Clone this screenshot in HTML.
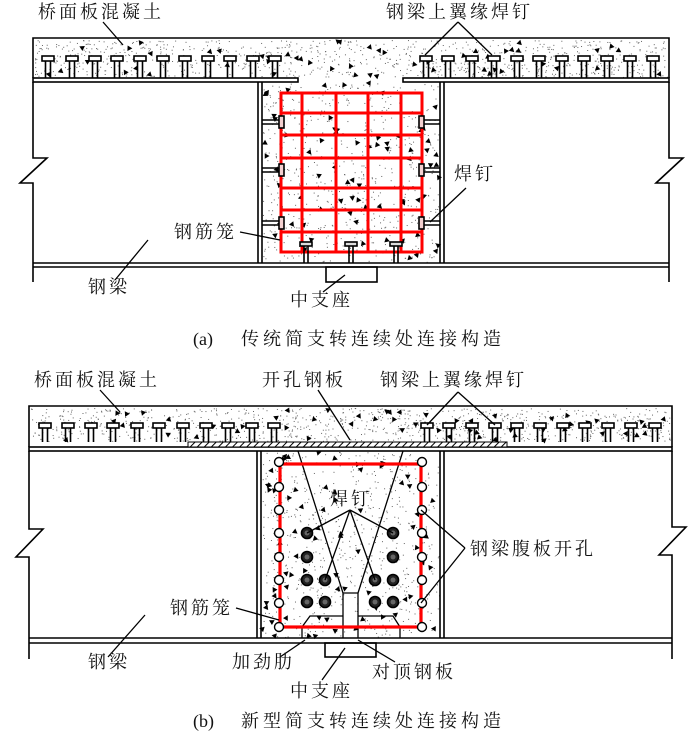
<!DOCTYPE html>
<html><head><meta charset="utf-8"><style>
html,body{margin:0;padding:0;background:#fff;width:700px;height:734px;overflow:hidden}
svg{display:block}
text{font-family:"Liberation Serif","Noto Serif CJK SC",serif;font-size:18px;fill:#111}
</style></head><body>
<svg id="s" width="700" height="734" viewBox="0 0 700 734" xmlns="http://www.w3.org/2000/svg">
<defs>
<pattern id="hat" width="5" height="5" patternUnits="userSpaceOnUse" patternTransform="rotate(45)">
<rect width="5" height="5" fill="#fff"/><line x1="0" y1="0" x2="0" y2="5" stroke="#000" stroke-width="2"/></pattern>
</defs>
<g id="speck"></g>
<g fill="none" stroke="#000" stroke-width="1.6" id="main">
<!-- ===== (a) ===== -->
<path d="M33 78 V38 H669 V78"/>
<rect x="33" y="78" width="265" height="4" fill="#fff"/>
<rect x="403" y="78" width="266" height="4" fill="#fff"/>
<path d="M33 82 V158 H47 L20 183 H33 V282"/>
<path d="M669 82 V158 H683 L656 183 H669 V282"/>
<line x1="33" y1="263" x2="669" y2="263"/>
<line x1="33" y1="267" x2="669" y2="267"/>
<path d="M258 82 V263 M262 82 V263 M440 82 V263 M444 82 V263"/>
<rect x="326" y="267" width="51" height="15"/>
<g stroke="#f00" stroke-width="3">
<rect x="281" y="93" width="141" height="159"/>
<path d="M302 93V252 M336 93V252 M368 93V252 M401 93V252"/>
<path d="M281 113H422 M281 135H422 M281 158H422 M281 188H422 M281 210H422 M281 232H422"/>
</g>
<g id="ws">
<path d="M262 120H279 M262 124H279 M262 168H279 M262 172H279 M262 221H279 M262 225H279"/>
<rect x="279" y="116" width="5" height="12" fill="#f4d0d0"/>
<rect x="279" y="164" width="5" height="12" fill="#f4d0d0"/>
<rect x="279" y="217" width="5" height="12" fill="#f4d0d0"/>
<path d="M440 120H424 M440 124H424 M440 168H424 M440 172H424 M440 221H424 M440 225H424"/>
<rect x="419" y="116" width="5" height="12" fill="#f4d0d0"/>
<rect x="419" y="164" width="5" height="12" fill="#f4d0d0"/>
<rect x="419" y="217" width="5" height="12" fill="#f4d0d0"/>
</g>
<g>
<rect x="300" y="242" width="12" height="4" fill="#ddd"/><path d="M304 246V263 M308 246V263"/>
<rect x="345" y="242" width="12" height="4" fill="#ddd"/><path d="M349 246V263 M353 246V263"/>
<rect x="390" y="242" width="12" height="4" fill="#ddd"/><path d="M394 246V263 M398 246V263"/>
</g>
<g id="studsA"></g>
<path d="M103 22L123 45 M458 22L425 55 M458 22L492 55 M466 188L430 222 M240 232L280 240 M115 280L148 240 M323 292L345 275" stroke-width="1.3"/>

<!-- ===== (b) ===== -->
<path d="M29 447 V406 H672 V447"/>
<rect x="29" y="447" width="643" height="4" fill="#fff"/>
<rect x="188" y="442" width="319" height="5" fill="url(#hat)" stroke-width="1"/>
<path d="M29 451 V529 H43 L16 557 H29 V659"/>
<path d="M672 451 V527 H686 L659 555 H672 V659"/>
<line x1="29" y1="638" x2="672" y2="638"/>
<line x1="29" y1="643" x2="672" y2="643"/>
<path d="M257 451 V638 M261 451 V638 M440 451 V638 M444 451 V638"/>
<rect x="325" y="643" width="51" height="14"/>
<path d="M298 451 L343 593 V638 M403 451 L358 593 V638 M343 593 H358" stroke-width="1.3"/>
<path d="M302 638 V627 L310 616 H343 M358 616 H393 L400 627 V638" stroke-width="1.3"/>
<rect x="280" y="464" width="141" height="163" stroke="#f00" stroke-width="3.2"/>
<g id="holes" stroke-width="1.4"></g>
<g id="dstuds"></g>
<g id="studsB"></g>
<path d="M100 390L120 412 M318 390L350 440 M458 392L427 425 M458 392L495 425 M350 510L307 533 M350 510L325 580 M350 510L375 580 M350 510L393 533 M465 548L421 510 M465 548L421 603 M236 608L279 620 M108 657L145 615 M280 657L305 640 M322 680L345 648 M395 662L358 640" stroke-width="1.3"/>
</g>
<g letter-spacing="3">
<text x="38" y="18">桥面板混凝土</text>
<text x="386" y="18">钢梁上翼缘焊钉</text>
<text x="454" y="180">焊钉</text>
<text x="174" y="238">钢筋笼</text>
<text x="88" y="293">钢梁</text>
<text x="290" y="306">中支座</text>
<text x="34" y="386">桥面板混凝土</text>
<text x="262" y="386">开孔钢板</text>
<text x="380" y="386">钢梁上翼缘焊钉</text>
<text x="330" y="505">焊钉</text>
<text x="470" y="555">钢梁腹板开孔</text>
<text x="170" y="614">钢筋笼</text>
<text x="88" y="668">钢梁</text>
<text x="232" y="668">加劲肋</text>
<text x="372" y="678">对顶钢板</text>
<text x="290" y="697">中支座</text>
<text x="193" y="345" letter-spacing="0">(a)</text>
<text x="241" y="345" letter-spacing="4">传统简支转连续处连接构造</text>
<text x="193" y="727" letter-spacing="0">(b)</text>
<text x="241" y="727" letter-spacing="4">新型简支转连续处连接构造</text>
</g>
</svg>
<script>
(function(){
var NS="http://www.w3.org/2000/svg";
function el(p,t,a){var e=document.createElementNS(NS,t);for(var k in a)e.setAttribute(k,a[k]);p.appendChild(e);return e;}
function studs(g,xs,yh,yb){xs.forEach(function(x){el(g,"rect",{x:x-6,y:yh,width:12,height:5,fill:"#fff"});el(g,"path",{d:"M"+(x-2.5)+" "+(yh+5)+"V"+yb+" M"+(x+2.5)+" "+(yh+5)+"V"+yb});});}
studs(document.getElementById("studsA"),[48,72,95,117,140,163,185,208,230,253,275,426,448,472,494,517,539,562,584,607,630,653],56,78);
studs(document.getElementById("studsB"),[45,68,91,113,137,159,183,206,228,252,274,427,449,472,495,517,540,563,585,608,631,655],423,442);
var h=document.getElementById("holes");
[462,487,510,533,557,580,603,627].forEach(function(y){el(h,"circle",{cx:279,cy:y,r:4.5,fill:"#fff"});el(h,"circle",{cx:422,cy:y,r:4.5,fill:"#fff"});});
var d=document.getElementById("dstuds");
[[307,533],[307,557],[307,580],[307,602],[325,580],[325,602],[375,580],[375,602],[393,533],[393,557],[393,580],[393,602]].forEach(function(p){el(d,"circle",{cx:p[0],cy:p[1],r:5.5,fill:"#222",stroke:"#000"});el(d,"circle",{cx:p[0],cy:p[1],r:2.5,fill:"#666",stroke:"none"});});
var seed=7;function r(){seed=(seed*16807)%2147483647;return seed/2147483647;}
var s=document.getElementById("speck");
function fill(x0,y0,x1,y1,nd,nt){for(var i=0;i<nd;i++)el(s,"rect",{x:x0+r()*(x1-x0),y:y0+r()*(y1-y0),width:1,height:1,fill:"#666"});
for(var j=0;j<nt;j++){var x=x0+r()*(x1-x0),y=y0+r()*(y1-y0),a=r()*6.28,z=3.2;
el(s,"path",{d:"M"+(x+z*Math.cos(a))+" "+(y+z*Math.sin(a))+"L"+(x+z*Math.cos(a+2.1))+" "+(y+z*Math.sin(a+2.1))+"L"+(x+z*Math.cos(a+4.2))+" "+(y+z*Math.sin(a+4.2))+"Z",fill:"#000"});}}
fill(35,40,667,77,900,55);fill(263,83,439,262,650,70);
fill(31,408,670,441,900,55);fill(262,452,439,637,650,70);
})();
</script>
</body></html>
